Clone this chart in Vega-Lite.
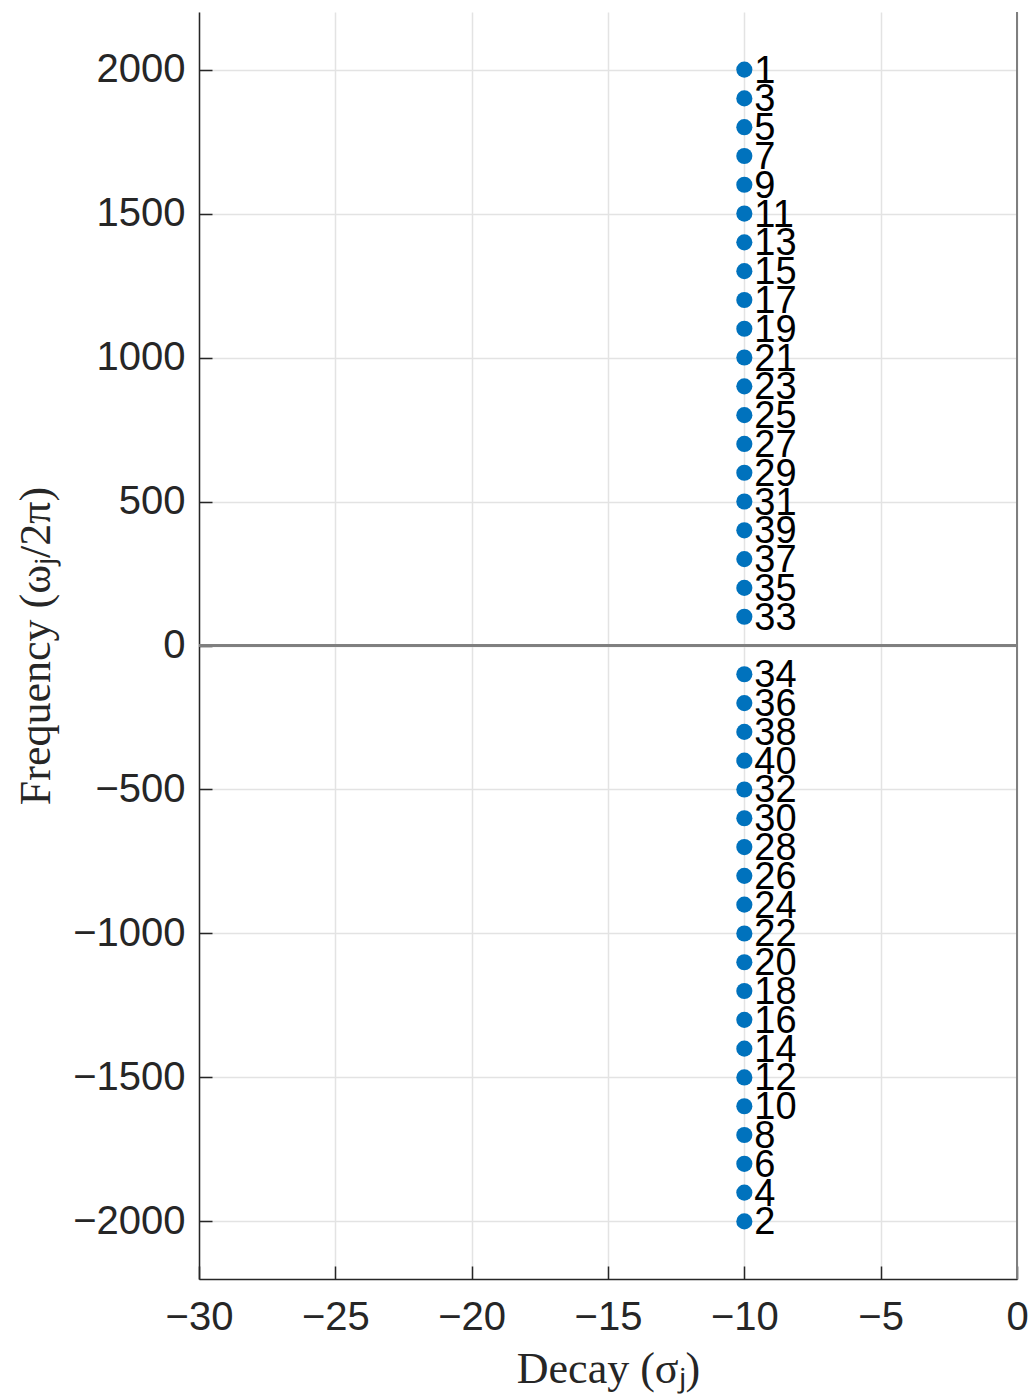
{
  "$schema": "https://vega.github.io/schema/vega-lite/v6.json",
  "width": 818,
  "height": 1267,
  "autosize": {"type": "none"},
  "padding": {"left": 199, "top": 12, "right": 15, "bottom": 119},
  "background": "white",
  "config": {
    "view": {"stroke": null},
    "axis": {
      "domainColor": "#262626",
      "domainWidth": 1.5,
      "tickColor": "#262626",
      "tickWidth": 1.5,
      "tickSize": -13,
      "gridColor": "#e3e3e3",
      "gridWidth": 1.5,
      "labelColor": "#262626",
      "labelFont": "Liberation Sans",
      "labelFontSize": 40,
      "labelFlush": false,
      "titleColor": "#262626",
      "titleFont": "Liberation Serif",
      "titleFontSize": 44,
      "titleFontWeight": "normal"
    }
  },
  "data": {
    "values": [
      {"sigma": -10, "freq": 2000, "label": "1"},
      {"sigma": -10, "freq": 1900, "label": "3"},
      {"sigma": -10, "freq": 1800, "label": "5"},
      {"sigma": -10, "freq": 1700, "label": "7"},
      {"sigma": -10, "freq": 1600, "label": "9"},
      {"sigma": -10, "freq": 1500, "label": "11"},
      {"sigma": -10, "freq": 1400, "label": "13"},
      {"sigma": -10, "freq": 1300, "label": "15"},
      {"sigma": -10, "freq": 1200, "label": "17"},
      {"sigma": -10, "freq": 1100, "label": "19"},
      {"sigma": -10, "freq": 1000, "label": "21"},
      {"sigma": -10, "freq": 900, "label": "23"},
      {"sigma": -10, "freq": 800, "label": "25"},
      {"sigma": -10, "freq": 700, "label": "27"},
      {"sigma": -10, "freq": 600, "label": "29"},
      {"sigma": -10, "freq": 500, "label": "31"},
      {"sigma": -10, "freq": 400, "label": "39"},
      {"sigma": -10, "freq": 300, "label": "37"},
      {"sigma": -10, "freq": 200, "label": "35"},
      {"sigma": -10, "freq": 100, "label": "33"},
      {"sigma": -10, "freq": -100, "label": "34"},
      {"sigma": -10, "freq": -200, "label": "36"},
      {"sigma": -10, "freq": -300, "label": "38"},
      {"sigma": -10, "freq": -400, "label": "40"},
      {"sigma": -10, "freq": -500, "label": "32"},
      {"sigma": -10, "freq": -600, "label": "30"},
      {"sigma": -10, "freq": -700, "label": "28"},
      {"sigma": -10, "freq": -800, "label": "26"},
      {"sigma": -10, "freq": -900, "label": "24"},
      {"sigma": -10, "freq": -1000, "label": "22"},
      {"sigma": -10, "freq": -1100, "label": "20"},
      {"sigma": -10, "freq": -1200, "label": "18"},
      {"sigma": -10, "freq": -1300, "label": "16"},
      {"sigma": -10, "freq": -1400, "label": "14"},
      {"sigma": -10, "freq": -1500, "label": "12"},
      {"sigma": -10, "freq": -1600, "label": "10"},
      {"sigma": -10, "freq": -1700, "label": "8"},
      {"sigma": -10, "freq": -1800, "label": "6"},
      {"sigma": -10, "freq": -1900, "label": "4"},
      {"sigma": -10, "freq": -2000, "label": "2"}
    ]
  },
  "encoding": {
    "x": {
      "field": "sigma",
      "type": "quantitative",
      "scale": {"domain": [-30, 0], "nice": false, "zero": false},
      "axis": {
        "title": "Decay (σⱼ)",
        "values": [-30, -25, -20, -15, -10, -5, 0],
        "labelPadding": 31,
        "titlePadding": 10
      }
    },
    "y": {
      "field": "freq",
      "type": "quantitative",
      "scale": {"domain": [-2200, 2200], "nice": false},
      "axis": {
        "title": "Frequency (ωⱼ/2π)",
        "values": [-2000, -1500, -1000, -500, 0, 500, 1000, 1500, 2000],
        "format": "d",
        "labelPadding": 27,
        "titlePadding": 14
      }
    }
  },
  "layer": [
    {
      "mark": {"type": "rule", "color": "#7f7f7f", "strokeWidth": 1.5},
      "encoding": {"y": {"datum": 0}, "x": null}
    },
    {
      "mark": {"type": "rule", "color": "#7f7f7f", "strokeWidth": 2},
      "encoding": {"x": {"datum": 0}, "y": null}
    },
    {
      "mark": {"type": "circle", "color": "#0072BD", "opacity": 1, "size": 260}
    },
    {
      "mark": {
        "type": "text",
        "align": "left",
        "baseline": "middle",
        "dx": 10,
        "dy": 2,
        "font": "Liberation Sans",
        "fontSize": 38,
        "color": "#000000"
      },
      "encoding": {"text": {"field": "label"}}
    }
  ]
}
